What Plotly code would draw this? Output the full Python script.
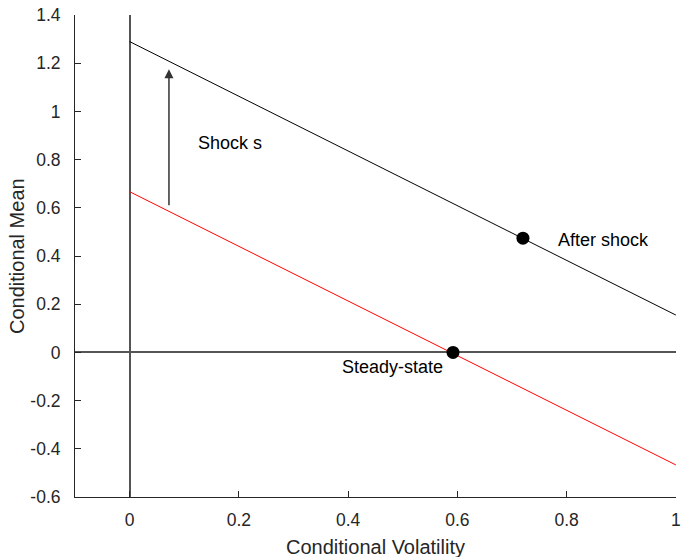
import plotly.graph_objects as go

x_line = [0, 1]
after_shock_y = [1.29, 0.155]
steady_y = [0.667, -0.467]
dots_x = [0.592, 0.72]
dots_y = [0.0, 0.474]
arrow_x = 0.072
arrow_y = [0.605, 1.175]
x_ticks = [0, 0.2, 0.4, 0.6, 0.8, 1]
x_tick_labels = ["0", "0.2", "0.4", "0.6", "0.8", "1"]
y_ticks = [-0.6, -0.4, -0.2, 0, 0.2, 0.4, 0.6, 0.8, 1, 1.2, 1.4]
y_tick_labels = ["-0.6", "-0.4", "-0.2", "0", "0.2", "0.4", "0.6", "0.8", "1", "1.2", "1.4"]

FONT = "Liberation Sans, Arial, sans-serif"

fig = go.Figure()
fig.add_trace(go.Scatter(x=x_line, y=after_shock_y, mode="lines",
                         line=dict(color="black", width=1), showlegend=False))
fig.add_trace(go.Scatter(x=x_line, y=steady_y, mode="lines",
                         line=dict(color="red", width=1), showlegend=False))
fig.add_trace(go.Scatter(x=dots_x, y=dots_y, mode="markers",
                         marker=dict(color="black", size=13), showlegend=False))

fig.add_annotation(x=arrow_x, y=arrow_y[1], ax=arrow_x, ay=arrow_y[0],
                   xref="x", yref="y", axref="x", ayref="y",
                   showarrow=True, arrowhead=2, arrowsize=1.2, arrowwidth=1.5,
                   arrowcolor="#333333", text="")
fig.add_annotation(x=0.121, y=0.87, text="Shock s", showarrow=False,
                   xanchor="left", yanchor="middle",
                   font=dict(size=18, color="black", family=FONT))
fig.add_annotation(x=0.78, y=0.466, text="After shock", showarrow=False,
                   xanchor="left", yanchor="middle",
                   font=dict(size=18, color="black", family=FONT))
fig.add_annotation(x=0.385, y=-0.06, text="Steady-state", showarrow=False,
                   xanchor="left", yanchor="middle",
                   font=dict(size=18, color="black", family=FONT))

# axis titles
fig.add_annotation(x=0.5, y=0, xref="paper", yref="paper", yshift=-50,
                   text="Conditional Volatility", showarrow=False,
                   xanchor="center", yanchor="middle",
                   font=dict(size=20, color="#262626", family=FONT))
fig.add_annotation(x=0, y=0.5, xref="paper", yref="paper", xshift=-58,
                   text="Conditional Mean", showarrow=False, textangle=-90,
                   xanchor="center", yanchor="middle",
                   font=dict(size=20, color="#262626", family=FONT))

fig.update_layout(
    width=685, height=557,
    margin=dict(l=75, r=9, t=15, b=60),
    plot_bgcolor="white", paper_bgcolor="white",
    font=dict(family=FONT, size=17, color="#262626"),
)
fig.update_xaxes(range=[-0.1, 1.0002], tickvals=x_ticks, ticktext=x_tick_labels,
                 automargin=False, showgrid=False,
                 zeroline=True, zerolinecolor="#555555", zerolinewidth=1.5,
                 showline=True, linecolor="#262626", linewidth=1,
                 ticks="inside", ticklen=6, tickcolor="#262626",
                 tickfont=dict(size=17.5, color="#262626"), ticklabelstandoff=7)
fig.update_yaxes(range=[-0.6, 1.4003], tickvals=y_ticks, ticktext=y_tick_labels,
                 automargin=False, showgrid=False,
                 zeroline=True, zerolinecolor="#555555", zerolinewidth=1.5,
                 showline=True, linecolor="#262626", linewidth=1,
                 ticks="inside", ticklen=6, tickcolor="#262626",
                 tickfont=dict(size=17.5, color="#262626"), ticklabelstandoff=10)

fig.write_html(
    "out.html",
    config={"displayModeBar": False},
    post_script="document.documentElement.style.margin='0';document.body.style.margin='0';"
                "document.body.style.overflow='hidden';",
)
